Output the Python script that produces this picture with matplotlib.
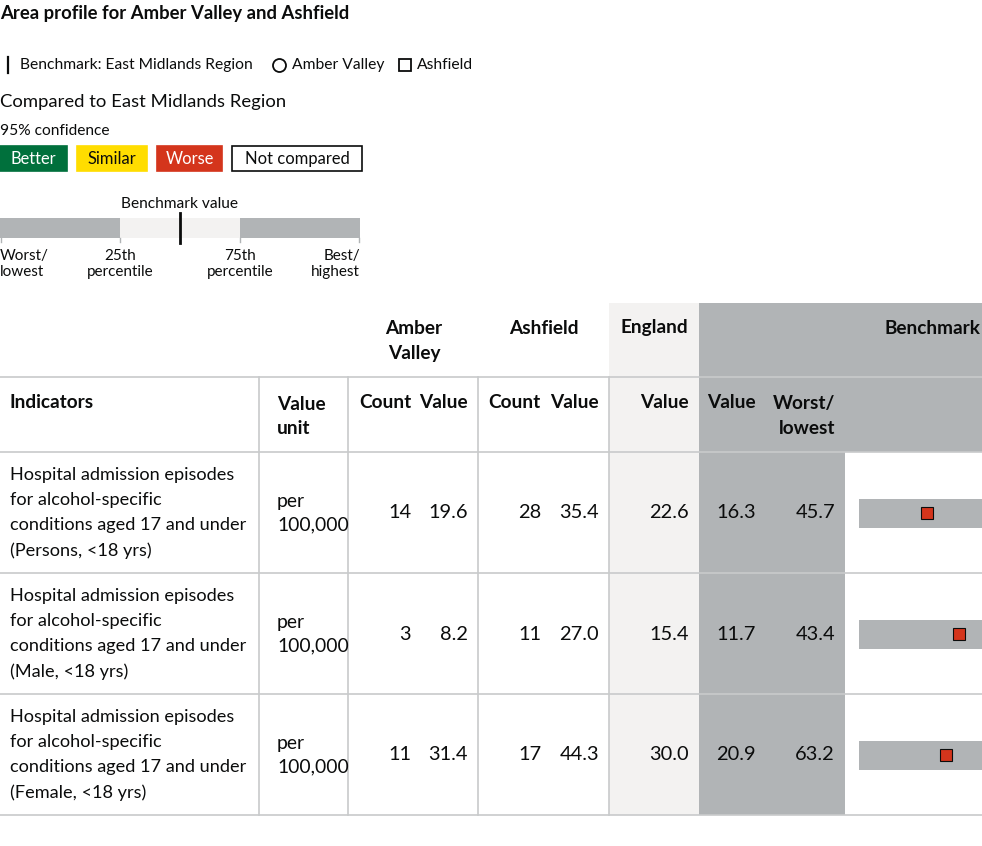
import matplotlib
matplotlib.use("Agg")
import matplotlib.pyplot as plt
from matplotlib.patches import Rectangle

plt.rcParams['font.family'] = ['Lato', 'DejaVu Sans']

# ---------------- data ----------------
title = "Area profile for Amber Valley and Ashfield"
areas = ["Amber Valley", "Ashfield"]
benchmark_name = "East Midlands Region"
indicators = [
    "Hospital admission episodes\nfor alcohol-specific\nconditions aged 17 and under\n(Persons, <18 yrs)",
    "Hospital admission episodes\nfor alcohol-specific\nconditions aged 17 and under\n(Male, <18 yrs)",
    "Hospital admission episodes\nfor alcohol-specific\nconditions aged 17 and under\n(Female, <18 yrs)",
]
value_units = ["per\n100,000", "per\n100,000", "per\n100,000"]
amber_counts = [14, 3, 11]
amber_values = [19.6, 8.2, 31.4]
ashfield_counts = [28, 11, 17]
ashfield_values = [35.4, 27.0, 44.3]
england_values = [22.6, 15.4, 30.0]
benchmark_values = [16.3, 11.7, 20.9]
worst_values = [45.7, 43.4, 63.2]
legend_labels = ["Better", "Similar", "Worse", "Not compared"]
legend_colors = ["#00703c", "#ffdd00", "#d4351c", "#ffffff"]
legend_text_colors = ["white", "#0b0c0c", "white", "#0b0c0c"]

W, H = 982, 846
fig = plt.figure(figsize=(W / 100, H / 100), dpi=100)
ax = fig.add_axes([0, 0, 1, 1])
ax.set_xlim(0, W)
ax.set_ylim(H, 0)
ax.axis('off')

TXT = "#0b0c0c"
GREY = "#b1b4b6"
LIGHT = "#f3f2f1"
LINE = "#c8cacb"


def pt(px):
    return px * 0.72


def txt(x, y, s, size=17, weight='normal', ha='left', va='center', color=TXT, **kw):
    ax.text(x, y, s, fontsize=pt(size), fontweight=weight, ha=ha, va=va,
            color=color, **kw)


# ---------------- header / legend ----------------
txt(0, 14, title, 18.5, 'bold')
ax.plot([8, 8], [57, 73], color=TXT, lw=1.6)
txt(20, 65, "Benchmark: " + benchmark_name, 15.6)
ax.plot([279], [65], marker='o', ms=pt(13), mfc='white', mec=TXT, mew=1.3)
txt(292, 65, areas[0], 15.6)
ax.plot([405], [65], marker='s', ms=pt(12), mfc='white', mec=TXT, mew=1.3)
txt(417, 65, areas[1], 15.6)

txt(0, 102, "Compared to " + benchmark_name, 18.5)
txt(0, 131, "95% confidence", 15.5)

boxes = [(0, 67), (77, 147), (157, 222), (232, 362)]
for (x0, x1), lab, c, tc in zip(boxes, legend_labels, legend_colors, legend_text_colors):
    ax.add_patch(Rectangle((x0, 146), x1 - x0, 25, facecolor=c,
                           edgecolor=TXT if lab == "Not compared" else c, lw=1.2))
    txt((x0 + x1) / 2, 159, lab, 16.5, ha='center', color=tc)

# spine legend
txt(180, 204, "Benchmark value", 15.5, ha='center')
ax.add_patch(Rectangle((0, 218), 120, 20, facecolor=GREY, lw=0))
ax.add_patch(Rectangle((120, 218), 120, 20, facecolor=LIGHT, lw=0))
ax.add_patch(Rectangle((240, 218), 120, 20, facecolor=GREY, lw=0))
ax.plot([180, 180], [213, 243], color=TXT, lw=2)
for xx in [1, 120, 240, 359]:
    ax.plot([xx, xx], [238, 242], color=GREY, lw=1)
txt(0, 264, "Worst/\nlowest", 15.3, ha='left', linespacing=1.2)
txt(120, 264, "25th\npercentile", 15.3, ha='center', linespacing=1.2)
txt(240, 264, "75th\npercentile", 15.3, ha='center', linespacing=1.2)
txt(360, 264, "Best/\nhighest", 15.3, ha='right', linespacing=1.2)

# ---------------- table ----------------
row_tops = [452, 573, 694]
row_h = 121
table_bottom = 815

# backgrounds
ax.add_patch(Rectangle((609, 303), 90, table_bottom - 303, facecolor=LIGHT, lw=0))
ax.add_patch(Rectangle((699, 303), W - 699, 452 - 303, facecolor=GREY, lw=0))
ax.add_patch(Rectangle((699, 452), 845 - 699, table_bottom - 452, facecolor=GREY, lw=0))

# horizontal lines
for yy in [377, 452, 573, 694, 815]:
    ax.plot([0, W], [yy, yy], color=LINE, lw=1.2)
# vertical lines
for xx in [259, 348, 478, 609]:
    ax.plot([xx, xx], [377, 815], color=LINE, lw=1.2)

HB = 19  # bold header size
# group headers
txt(414, 341, "Amber\nValley", HB, 'bold', ha='center', linespacing=1.5)
txt(544, 328, areas[1], HB, 'bold', ha='center')
txt(654, 328, "England", HB, 'bold', ha='center')
txt(981, 328, "Benchmark", HB, 'bold', ha='right')

# column headers
txt(10, 403, "Indicators", HB, 'bold')
txt(277, 416, "Value\nunit", HB, 'bold', linespacing=1.5)
txt(412, 403, "Count", HB, 'bold', ha='right')
txt(468, 403, "Value", HB, 'bold', ha='right')
txt(541, 403, "Count", HB, 'bold', ha='right')
txt(599, 403, "Value", HB, 'bold', ha='right')
txt(689, 403, "Value", HB, 'bold', ha='right')
txt(756, 403, "Value", HB, 'bold', ha='right')
txt(835, 416, "Worst/\nlowest", HB, 'bold', ha='right', linespacing=1.5)

NS = 20  # number size
for i, top in enumerate(row_tops):
    cy = top + row_h / 2 + 0.5
    txt(10, cy, indicators[i], 18.2, linespacing=1.7)
    txt(277, cy, value_units[i], 19.3, linespacing=1.47)
    txt(411, cy, f"{amber_counts[i]}", NS, ha='right')
    txt(468, cy, f"{amber_values[i]:.1f}", NS, ha='right')
    txt(541, cy, f"{ashfield_counts[i]}", NS, ha='right')
    txt(599, cy, f"{ashfield_values[i]:.1f}", NS, ha='right')
    txt(689, cy, f"{england_values[i]:.1f}", NS, ha='right')
    txt(756, cy, f"{benchmark_values[i]:.1f}", NS, ha='right')
    txt(835, cy, f"{worst_values[i]:.1f}", NS, ha='right')

    # spine chart: worst on the left, benchmark at centre
    worst = worst_values[i]
    bench = benchmark_values[i]
    best = 2 * bench - worst
    spine_w = 388
    bar_top = cy - 14.5
    sax = fig.add_axes([859 / W, 1 - (bar_top + 29) / H, spine_w / W, 29 / H])
    sax.set_xlim(worst, best)
    sax.set_ylim(-0.5, 0.5)
    sax.axis('off')
    sax.barh(0, best - worst, left=worst, height=1.0, color=GREY, lw=0)
    sax.axvline(bench, color=TXT, lw=2)
    sax.plot([amber_values[i]], [0], marker='o', ms=pt(12), mfc='#d4351c', mec=TXT, mew=0.8)
    sax.plot([ashfield_values[i]], [0], marker='s', ms=pt(12), mfc='#d4351c', mec=TXT, mew=0.8)

fig.savefig("out.png", dpi=100)
